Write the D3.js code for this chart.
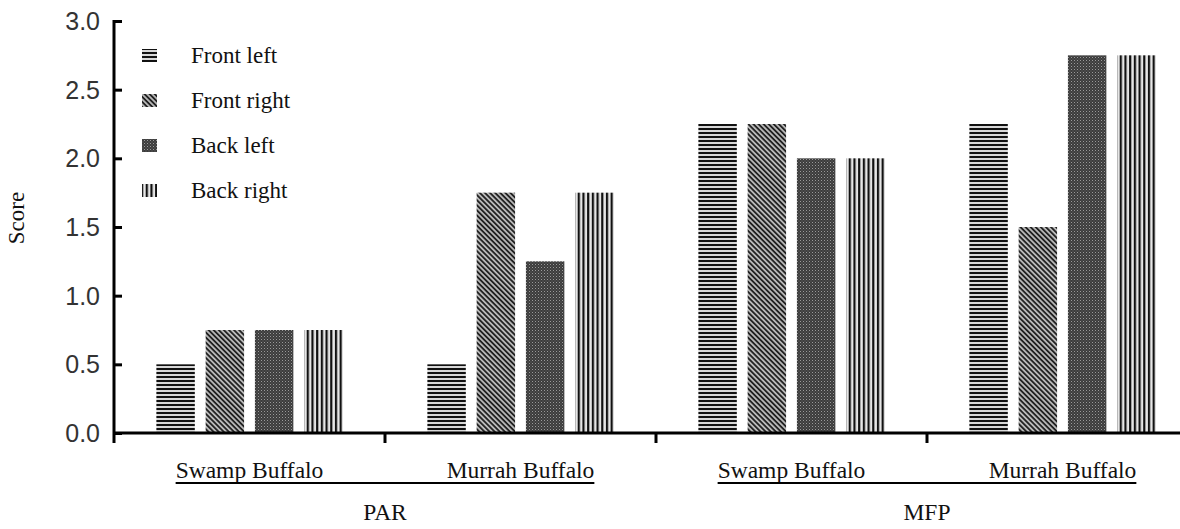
<!DOCTYPE html>
<html>
<head>
<meta charset="utf-8">
<script src="https://cdn.jsdelivr.net/npm/d3@7"></script>
<style>
  html, body { margin: 0; padding: 0; background: #fff; }
  svg { display: block; }
</style>
</head>
<body>
<svg id="chart" width="1180" height="529"></svg>
<script>
// ---- data ----
const traits = ["PAR", "MFP"];
const breeds = ["Swamp Buffalo", "Murrah Buffalo"];
const positions = ["Front left", "Front right", "Back left", "Back right"];
const parSwamp  = [0.5, 0.75, 0.75, 0.75];
const parMurrah = [0.5, 1.75, 1.25, 1.75];
const mfpSwamp  = [2.25, 2.25, 2.0, 2.0];
const mfpMurrah = [2.25, 1.5, 2.75, 2.75];
const yTicks = [0, 0.5, 1.0, 1.5, 2.0, 2.5, 3.0];
const yLabel = "Score";

(function () {
const groups = [
  { trait: "PAR", breed: "Swamp Buffalo", values: parSwamp },
  { trait: "PAR", breed: "Murrah Buffalo", values: parMurrah },
  { trait: "MFP", breed: "Swamp Buffalo", values: mfpSwamp },
  { trait: "MFP", breed: "Murrah Buffalo", values: mfpMurrah }
];
groups.forEach((g, i) => g.key = g.trait + "|" + g.breed);

// ---- layout ----
const svg = d3.select("#chart");
const mLeft = 114, mTop = 21, mBottom = 433, groupW = 271;

const x0 = d3.scaleBand().domain(groups.map(g => g.key))
  .range([mLeft, mLeft + groupW * groups.length]);
const x1 = d3.scaleBand().domain(positions)
  .range([0, x0.bandwidth()]).paddingInner(0.22).paddingOuter(0.86);
const y = d3.scaleLinear().domain([0, 3]).range([mBottom, mTop]);
const xt = d3.scaleBand().domain(traits)
  .range([mLeft, mLeft + groupW * groups.length]);

// ---- patterns ----
const defs = svg.append("defs");
const pFL = defs.append("pattern").attr("id", "p0").attr("patternUnits", "userSpaceOnUse")
  .attr("width", 8).attr("height", 4);
pFL.append("rect").attr("width", 8).attr("height", 4).attr("fill", "#d8d8d8");
pFL.append("rect").attr("width", 8).attr("height", 2).attr("fill", "#111");

const pFR = defs.append("pattern").attr("id", "p1").attr("patternUnits", "userSpaceOnUse")
  .attr("width", 8).attr("height", 3.6).attr("patternTransform", "rotate(45)");
pFR.append("rect").attr("width", 8).attr("height", 3.6).attr("fill", "#b8b8b8");
pFR.append("rect").attr("width", 8).attr("height", 1.8).attr("fill", "#222");

const pBL = defs.append("pattern").attr("id", "p2").attr("patternUnits", "userSpaceOnUse")
  .attr("width", 3).attr("height", 3);
pBL.append("rect").attr("width", 3).attr("height", 3).attr("fill", "#3c3c3c");
pBL.append("rect").attr("width", 1).attr("height", 1).attr("fill", "#9a9a9a");
pBL.append("rect").attr("x", 1.5).attr("y", 1.5).attr("width", 1).attr("height", 1).attr("fill", "#6a6a6a");

const pBR = defs.append("pattern").attr("id", "p3").attr("patternUnits", "userSpaceOnUse")
  .attr("width", 4.7).attr("height", 8);
pBR.append("rect").attr("width", 4.7).attr("height", 8).attr("fill", "#e6e6e6");
pBR.append("rect").attr("width", 2.2).attr("height", 8).attr("fill", "#111");

const fills = d3.scaleOrdinal().domain(positions).range(["url(#p0)", "url(#p1)", "url(#p2)", "url(#p3)"]);

// ---- bars ----
const gG = svg.append("g").selectAll("g").data(groups).join("g")
  .attr("transform", d => `translate(${x0(d.key)},0)`);
gG.selectAll("rect").data(d => d.values.map((v, i) => ({ pos: positions[i], v })))
  .join("rect")
  .attr("x", d => x1(d.pos))
  .attr("width", x1.bandwidth())
  .attr("y", d => y(d.v))
  .attr("height", d => y(0) - y(d.v))
  .attr("fill", d => fills(d.pos));

// ---- axes ----
const yAxis = d3.axisRight(y).tickValues(yTicks).tickSize(8).tickFormat("");
const ya = svg.append("g").attr("transform", `translate(${mLeft},0)`).call(yAxis);
ya.select(".domain").attr("stroke", "#000").attr("stroke-width", 3).attr("d", `M0,${mTop - 1}V${mBottom + 10}`);
ya.selectAll(".tick line").attr("stroke", "#000").attr("stroke-width", 3);

svg.append("g").selectAll("text").data(yTicks).join("text")
  .attr("x", mLeft - 14).attr("y", d => y(d)).attr("dy", "0.36em")
  .attr("text-anchor", "end")
  .attr("font-family", "Liberation Sans, Arial, sans-serif")
  .attr("font-size", 25).attr("fill", "#333")
  .text(d => d3.format(".1f")(d));

const xAxis = d3.axisBottom(x0).tickValues([]).tickSize(0);
const xa = svg.append("g").attr("transform", `translate(0,${mBottom})`).call(xAxis);
xa.select(".domain").attr("stroke", "#000").attr("stroke-width", 3)
  .attr("d", `M${mLeft},0H${mLeft + groupW * groups.length}`);
const boundaries = groups.slice(1).map(g => x0(g.key));
xa.selectAll("line.sep").data(boundaries).join("line").attr("class", "sep")
  .attr("x1", d => d).attr("x2", d => d).attr("y1", 0).attr("y2", 10)
  .attr("stroke", "#000").attr("stroke-width", 3);

// ---- group labels ----
const serif = "Liberation Serif, Times New Roman, serif";
traits.forEach(t => {
  const gs = groups.filter(g => g.trait === t);
  const texts = gs.map(g => svg.append("text")
    .attr("x", x0(g.key) + x0.bandwidth() / 2).attr("y", 478)
    .attr("text-anchor", "middle").attr("font-family", serif)
    .attr("font-size", 23.5).attr("fill", "#111").text(g.breed));
  const b0 = texts[0].node().getBBox(), b1 = texts[texts.length - 1].node().getBBox();
  svg.append("line").attr("x1", b0.x).attr("x2", b1.x + b1.width)
    .attr("y1", 483).attr("y2", 483).attr("stroke", "#000").attr("stroke-width", 2);
  svg.append("text").attr("x", xt(t) + xt.bandwidth() / 2).attr("y", 520)
    .attr("text-anchor", "middle").attr("font-family", serif)
    .attr("font-size", 23.5).attr("fill", "#111").text(t);
});

// ---- y label ----
svg.append("text").attr("transform", "translate(24,218) rotate(-90)")
  .attr("text-anchor", "middle").attr("font-family", serif)
  .attr("font-size", 23).attr("fill", "#111").text(yLabel);

// ---- legend ----
const ly = d3.scalePoint().domain(positions).range([56, 191]);
const lg = svg.append("g").selectAll("g").data(positions).join("g")
  .attr("transform", d => `translate(0,${ly(d)})`);
lg.append("rect").attr("x", 142).attr("y", -7).attr("width", 15).attr("height", 13)
  .attr("fill", d => fills(d));
lg.append("text").attr("x", 191).attr("y", 7)
  .attr("font-family", serif).attr("font-size", 23).attr("fill", "#111")
  .text(d => d);
})();
</script>
</body>
</html>
